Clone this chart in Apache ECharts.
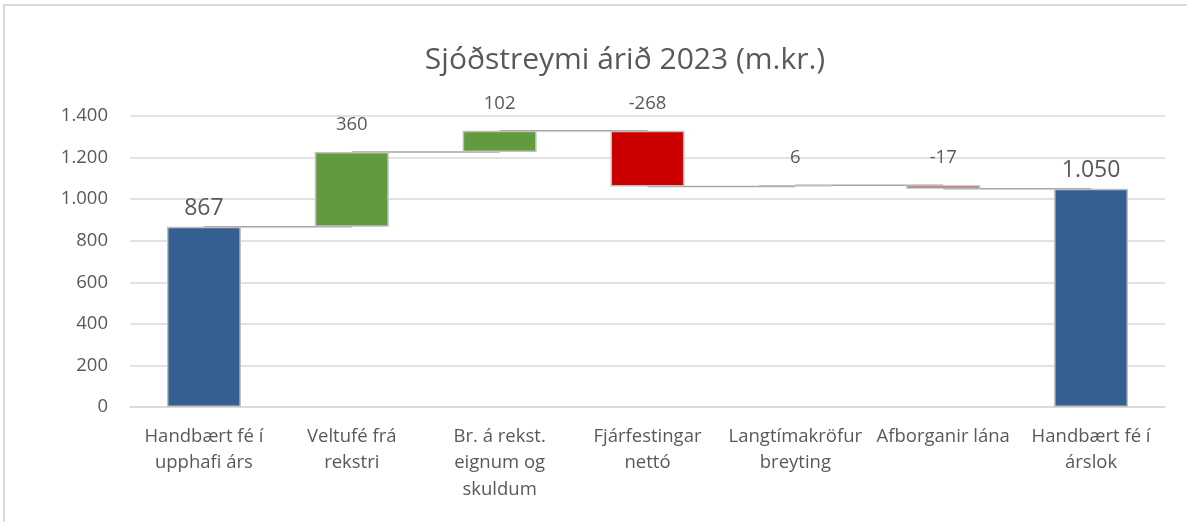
<!DOCTYPE html>
<html>
<head>
<meta charset="utf-8">
<script src="https://cdn.jsdelivr.net/npm/echarts@6/dist/echarts.min.js"></script>
<style>
  html, body { margin: 0; padding: 0; background: #fff; }
  #chart { width: 1187px; height: 522px; }
</style>
</head>
<body>
<div id="chart"></div>
<script>
  // flokkar og gildi (m.kr.)
  var categories = [
    'Handbært fé í\nupphafi árs',
    'Veltufé frá\nrekstri',
    'Br. á rekst.\neignum og\nskuldum',
    'Fjárfestingar\nnettó',
    'Langtímakröfur\nbreyting',
    'Afborganir lána',
    'Handbært fé í\nárslok'
  ]
  var values = [867, 360, 102, -268, 6, -17, 1050]
  var isTotal = [true, false, false, false, false, false, true]
  var yTicks = { min: 0, max: 1400, interval: 200 }

  var colors = { total: '#355f91', up: '#629b3d', down: '#cc0000' }
  var textColor = '#595959'
  var font = 'Open Sans'

  function fmt (v) {
    return String(v).replace(/\B(?=(\d{3})+(?!\d))/g, '.')
  }

  // reikna grunn og hæð hverrar súlu
  var baseData = []
  var barData = []
  var levels = []
  var running = 0
  values.forEach(function (v, i) {
    var base, h, color
    if (isTotal[i]) {
      base = 0
      h = v
      running = v
      color = colors.total
    } else {
      var after = running + v
      base = Math.min(running, after)
      h = Math.abs(v)
      running = after
      color = v >= 0 ? colors.up : colors.down
    }
    levels.push(running)
    baseData.push(base)
    barData.push({
      value: h,
      itemStyle: { color: color },
      label: isTotal[i]
        ? { fontSize: 23, distance: 7 }
        : { fontSize: 18.5, distance: 18 }
    })
  })

  var connectors = []
  for (var i = 0; i < values.length - 1; i++) {
    connectors.push([i, levels[i]])
  }

  var chart = echarts.init(document.getElementById('chart'))
  var option = {
    animation: false,
    title: {
      text: 'Sjóðstreymi árið 2023 (m.kr.)',
      left: 620,
      textAlign: 'center',
      top: 40,
      textStyle: { fontFamily: font, fontSize: 30, fontWeight: 'normal', color: textColor }
    },
    graphic: [{
      type: 'rect',
      shape: { x: 4, y: 5, width: 1300, height: 700 },
      style: { fill: 'none', stroke: '#d9d9d9', lineWidth: 2 },
      silent: true
    }],
    grid: { left: 130, right: 22, top: 116, bottom: 115 },
    xAxis: {
      type: 'category',
      data: categories,
      axisLine: { lineStyle: { color: '#d9d9d9', width: 1.5 } },
      axisTick: { show: false },
      axisLabel: {
        interval: 0,
        margin: 16,
        fontFamily: font,
        fontSize: 18.5,
        lineHeight: 26.5,
        color: textColor
      }
    },
    yAxis: {
      type: 'value',
      min: yTicks.min,
      max: yTicks.max,
      interval: yTicks.interval,
      axisLine: { show: false },
      axisTick: { show: false },
      splitLine: { lineStyle: { color: '#d9d9d9', width: 1.5 } },
      axisLabel: {
        margin: 22,
        fontFamily: font,
        fontSize: 18.5,
        color: textColor,
        formatter: fmt
      }
    },
    series: [
      {
        type: 'custom',
        z: 1,
        renderItem: function (params, api) {
          var p1 = api.coord([api.value(0), api.value(1)])
          var p2 = api.coord([api.value(0) + 1, api.value(1)])
          return {
            type: 'line',
            shape: { x1: p1[0], y1: p1[1], x2: p2[0], y2: p2[1] },
            style: { stroke: '#a6a6a6', lineWidth: 1.5 }
          }
        },
        data: connectors,
        silent: true
      },
      {
        type: 'bar',
        stack: 'w',
        z: 2,
        barWidth: '50%',
        itemStyle: { color: 'transparent' },
        data: baseData,
        silent: true
      },
      {
        type: 'bar',
        stack: 'w',
        z: 3,
        barWidth: '50%',
        itemStyle: { borderColor: '#bfbfbf', borderWidth: 1.5 },
        label: {
          show: true,
          position: 'top',
          fontFamily: font,
          color: textColor,
          formatter: function (p) { return fmt(values[p.dataIndex]) }
        },
        data: barData
      }
    ]
  }
  chart.setOption(option)
  window.addEventListener('resize', function () {
    chart.resize()
  })
</script>
</body>
</html>
